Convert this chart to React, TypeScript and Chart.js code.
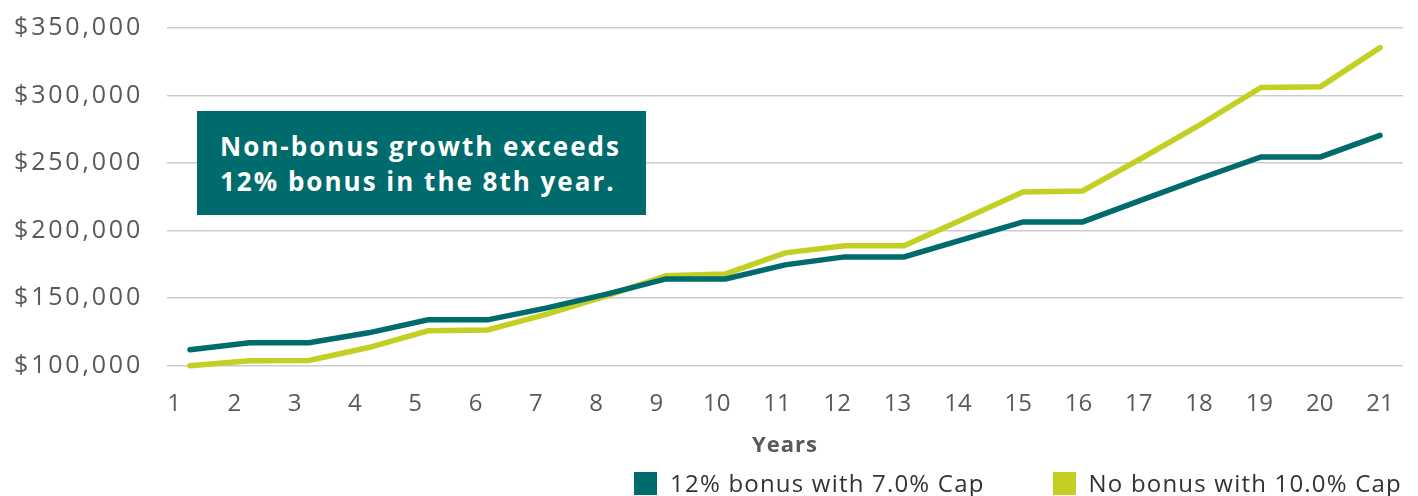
import React, { useEffect, useRef } from 'react';
import { Chart, registerables } from 'chart.js';

Chart.register(...registerables);

// ---- Data ----
const years = [1, 2, 3, 4, 5, 6, 7, 8, 9, 10, 11, 12, 13, 14, 15, 16, 17, 18, 19, 20, 21];
const yTicks = [100000, 150000, 200000, 250000, 300000, 350000];
const seriesNames = ['12% bonus with 7.0% Cap', 'No bonus with 10.0% Cap'];
const bonusValues = [
  111800, 117000, 117000, 124400, 134000, 134000, 142900, 153000, 164300, 164300,
  174700, 180600, 180600, 193500, 206500, 206500, 222800, 239000, 254600, 254600, 270500,
];
const noBonusValues = [
  100000, 103700, 104000, 113500, 125900, 126500, 138300, 151800, 166600, 168000,
  183600, 188800, 188800, 208600, 228700, 229400, 253800, 279000, 306000, 306600, 335500,
];
const xTitle = 'Years';
const noteLines = ['Non-bonus growth exceeds', '12% bonus in the 8th year.'];

// ---- Style ----
const TEAL = '#006B6D';
const LIME = '#C3CF22';
const FONT = "'Open Sans', sans-serif";
const TICK_COLOR = '#58595B';

export default function App() {
  const canvasRef = useRef<HTMLCanvasElement | null>(null);

  useEffect(() => {
    document.body.style.margin = '0';
    const canvas = canvasRef.current;
    if (!canvas) return;

    const spacingPlugin = {
      id: 'labelSpacing',
      beforeDraw(chart: any) {
        const s: any = chart.scales.y;
        if (s && !s.__wrapped) {
          const orig = s.drawLabels.bind(s);
          s.drawLabels = (area: any) => {
            const c: any = chart.ctx;
            c.save();
            try { c.letterSpacing = '2.8px'; } catch (e) { /* ignore */ }
            orig(area);
            c.restore();
          };
          s.__wrapped = true;
        }
        const x: any = chart.scales.x;
        if (x && !x.__wrapped) {
          const origT = x.drawTitle.bind(x);
          x.drawTitle = () => {
            const c: any = chart.ctx;
            c.save();
            try { c.letterSpacing = '1px'; } catch (e) { /* ignore */ }
            origT();
            c.restore();
          };
          x.__wrapped = true;
        }
      },
    };

    const chart = new Chart(canvas, {
      type: 'line',
      data: {
        datasets: [
          {
            label: seriesNames[0],
            data: years.map((yr, i) => ({ x: yr, y: bonusValues[i] })),
            borderColor: TEAL,
            backgroundColor: TEAL,
            borderWidth: 5.5,
            borderCapStyle: 'round',
            borderJoinStyle: 'miter',
            pointRadius: 0,
            tension: 0,
            clip: false as any,
            xAxisID: 'xd',
            yAxisID: 'y',
          },
          {
            label: seriesNames[1],
            data: years.map((yr, i) => ({ x: yr, y: noBonusValues[i] })),
            borderColor: LIME,
            backgroundColor: LIME,
            borderWidth: 5.5,
            borderCapStyle: 'round',
            borderJoinStyle: 'miter',
            pointRadius: 0,
            tension: 0,
            clip: false as any,
            xAxisID: 'xd',
            yAxisID: 'y',
          },
        ],
      },
      options: {
        responsive: true,
        maintainAspectRatio: false,
        animation: false,
        layout: { padding: { top: 28, right: 15, bottom: 37, left: 0 } },
        plugins: {
          legend: { display: false },
          tooltip: { enabled: false },
        },
        scales: {
          x: {
            type: 'linear',
            position: 'bottom',
            min: 0.884,
            max: 21.382,
            afterBuildTicks: (s: any) => {
              s.ticks = years.map((v) => ({ value: v }));
            },
            grid: { display: false, drawTicks: false },
            border: { display: false },
            ticks: {
              font: { family: FONT, size: 24 },
              color: TICK_COLOR,
              padding: 24,
              maxRotation: 0,
              autoSkip: false,
              callback: (v: any) => String(v),
            },
            title: {
              display: true,
              text: xTitle,
              font: { family: FONT, size: 22, weight: 'bold' },
              color: TICK_COLOR,
              padding: { top: -10, bottom: 0 },
            },
          },
          xd: {
            type: 'linear',
            position: 'bottom',
            display: false,
            min: 0.6134,
            max: 21.386,
          },
          y: {
            type: 'linear',
            min: 100000,
            max: 350000,
            afterBuildTicks: (s: any) => {
              s.ticks = yTicks.map((v) => ({ value: v }));
            },
            afterFit: (s: any) => {
              s.width = 167;
              s.paddingTop = 0;
              s.paddingBottom = 0;
            },
            grid: { color: '#CBCBCB', lineWidth: 1.5, drawTicks: false },
            border: { display: false },
            ticks: {
              font: { family: FONT, size: 25 },
              color: TICK_COLOR,
              padding: 24,
              callback: (v: any) => '$' + Number(v).toLocaleString('en-US'),
            },
          },
        },
      } as any,
      plugins: [spacingPlugin],
    });

    return () => chart.destroy();
  }, []);

  return (
    <div style={{ position: 'relative', width: 1418, height: 496, overflow: 'hidden', background: '#fff' }}>
      <canvas ref={canvasRef} style={{ position: 'absolute', left: 0, top: 0, width: 1418, height: 496 }} />
      <div
        style={{
          position: 'absolute',
          left: 197,
          top: 111,
          width: 449,
          height: 104,
          boxSizing: 'border-box',
          background: TEAL,
          color: '#fff',
          fontFamily: FONT,
          fontWeight: 700,
          fontSize: 26,
          lineHeight: '35px',
          letterSpacing: '2px',
          padding: '18px 0 0 23px',
          whiteSpace: 'nowrap',
        }}
      >
        {noteLines.map((t) => (
          <div key={t}>{t}</div>
        ))}
      </div>
      <div
        style={{
          position: 'absolute',
          right: 16,
          top: 471,
          display: 'flex',
          gap: 68,
          alignItems: 'center',
          fontFamily: FONT,
          fontSize: 24,
          lineHeight: '24px',
          letterSpacing: '1.2px',
          color: '#333333',
        }}
      >
        {seriesNames.map((name, i) => (
          <div key={name} style={{ display: 'flex', alignItems: 'center' }}>
            <span
              style={{
                display: 'inline-block',
                width: 23,
                height: 23,
                background: i === 0 ? TEAL : LIME,
                marginRight: 13,
              }}
            />
            <span style={{ whiteSpace: 'nowrap' }}>{name}</span>
          </div>
        ))}
      </div>
    </div>
  );
}
